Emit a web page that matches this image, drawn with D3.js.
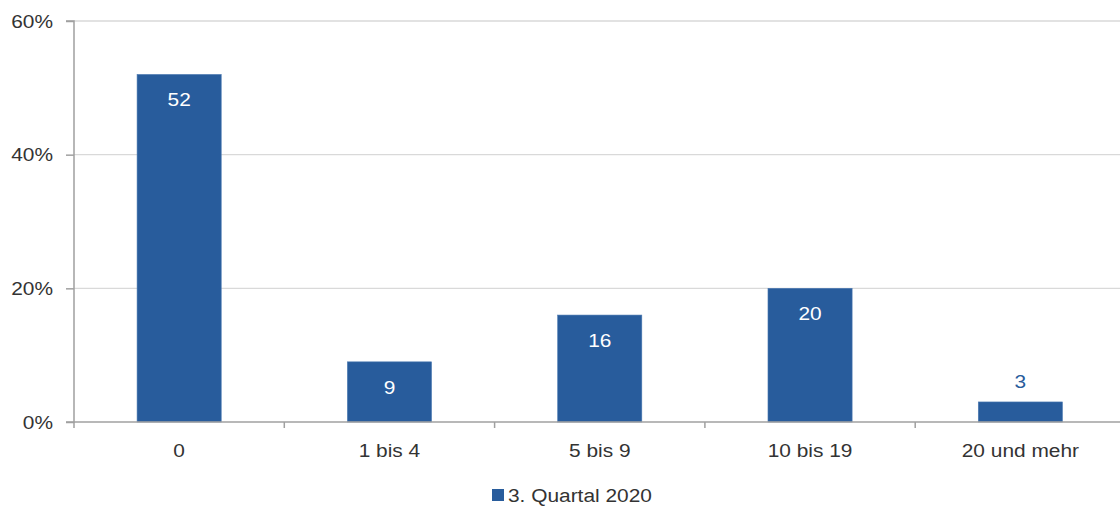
<!DOCTYPE html>
<html><head><meta charset="utf-8">
<script src="https://cdn.jsdelivr.net/npm/d3@7"></script>
<style>body{margin:0;background:#fff}svg{display:block;font-family:"Liberation Sans",Arial,sans-serif}</style>
</head><body><svg id="c" width="1120" height="509"></svg>
<script>
const categories = ["0", "1 bis 4", "5 bis 9", "10 bis 19", "20 und mehr"];
const values = [52, 9, 16, 20, 3];
const yTicks = [0, 20, 40, 60];
const seriesName = "3. Quartal 2020";

(function () {
const svg = d3.select("#c");
const pLeft = 74, pRight = 1125.5, pTop = 21, pBottom = 422;
const x = d3.scaleBand().domain(categories).range([pLeft, pRight]).paddingInner(0.6).paddingOuter(0.3);
const y = d3.scaleLinear().domain([0, 60]).range([pBottom, pTop]);
const color = "#285C9C";
const SX = 1.16, FS = 18;
function txt(g, tx, ty, s, anchor, fill) {
  return g.append("text").attr("transform", `translate(${tx},${ty}) scale(${SX},1)`)
    .attr("text-anchor", anchor).attr("font-size", FS).attr("fill", fill).text(s);
}

// gridlines
svg.append("g").selectAll("line").data(yTicks.filter(d => d > 0)).join("line")
  .attr("x1", pLeft).attr("x2", 1120).attr("y1", d => y(d)).attr("y2", d => y(d))
  .attr("stroke", "#d9d9d9").attr("stroke-width", 1.3);

// bars
svg.append("g").selectAll("rect").data(values).join("rect")
  .attr("x", (d, i) => x(categories[i])).attr("width", x.bandwidth())
  .attr("y", d => y(d)).attr("height", d => pBottom - y(d))
  .attr("fill", color).attr("stroke", "#4a78b0").attr("stroke-width", 0.6);

// y axis
const ya = d3.axisLeft(y).tickValues(yTicks).tickFormat("").tickSize(8);
const yg = svg.append("g").attr("transform", `translate(${pLeft},0)`).call(ya);
yg.select(".domain").attr("stroke", "#a0a0a0").attr("stroke-width", 1.5).attr("d", `M-8,${pTop}H0V${pBottom}H-8`);
yg.selectAll(".tick line").attr("stroke", "#a0a0a0").attr("stroke-width", 1.5);
const yl = svg.append("g");
yTicks.forEach(t => txt(yl, 53, y(t) + 6.5, t + "%", "end", "#333"));

// x axis line
svg.append("line").attr("x1", pLeft).attr("x2", 1120).attr("y1", pBottom).attr("y2", pBottom)
  .attr("stroke", "#a0a0a0").attr("stroke-width", 1.5);
// x ticks at boundaries
const bounds = d3.range(categories.length).map(i => pLeft + i * x.step());
svg.append("g").selectAll("line").data(bounds).join("line")
  .attr("x1", d => d).attr("x2", d => d).attr("y1", pBottom).attr("y2", pBottom + 6)
  .attr("stroke", "#a0a0a0").attr("stroke-width", 1.5);
// x labels
const xl = svg.append("g");
categories.forEach(c => txt(xl, x(c) + x.bandwidth() / 2, 457, c, "middle", "#333"));

// value labels
const vl = svg.append("g");
values.forEach((v, i) => {
  const inside = (pBottom - y(v)) > 40;
  txt(vl, x(categories[i]) + x.bandwidth() / 2, inside ? y(v) + 32 : y(v) - 14, v, "middle", inside ? "#fff" : color);
});

// legend
svg.append("rect").attr("x", 492).attr("y", 489).attr("width", 12).attr("height", 12).attr("fill", color);
txt(svg, 508, 502, seriesName, "start", "#333");
})();
</script></body></html>
